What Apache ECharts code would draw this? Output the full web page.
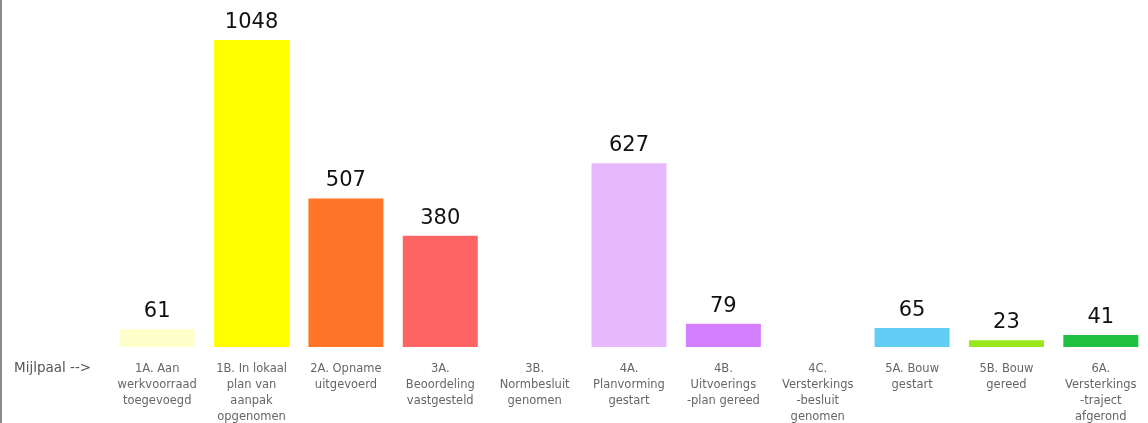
<!DOCTYPE html>
<html>
<head>
<meta charset="utf-8">
<script src="https://cdn.jsdelivr.net/npm/echarts@6/dist/echarts.min.js"></script>
<style>
  html, body { margin: 0; padding: 0; background: #fff; }
  #container { width: 1148px; height: 423px; }
</style>
</head>
<body>
<div id="container"></div>
<script>
// mijlpalen
var categories = [
  '1A. Aan\nwerkvoorraad\ntoegevoegd',
  '1B. In lokaal\nplan van\naanpak\nopgenomen',
  '2A. Opname\nuitgevoerd',
  '3A.\nBeoordeling\nvastgesteld',
  '3B.\nNormbesluit\ngenomen',
  '4A.\nPlanvorming\ngestart',
  '4B.\nUitvoerings\n-plan gereed',
  '4C.\nVersterkings\n-besluit\ngenomen',
  '5A. Bouw\ngestart',
  '5B. Bouw\ngereed',
  '6A.\nVersterkings\n-traject\nafgerond'
];
var values = [61, 1048, 507, 380, 0, 627, 79, 0, 65, 23, 41];
var barColors = ['#ffffcc', '#ffff00', '#ff7426', '#ff6464', '#ffffff', '#e6b9ff',
                 '#d47fff', '#ffffff', '#62ccf5', '#9ae81c', '#1fbf42'];

var myChart = echarts.init(document.getElementById('container'));
var option = {
  animation: false,
  backgroundColor: '#fff',
  grid: { left: 110, right: 0, top: 40, bottom: 76, outerBoundsMode: 'none', containLabel: false },
  graphic: [
    { type: 'rect', left: 0, top: 0, shape: { width: 2, height: 423 }, style: { fill: '#8a8a8a' } },
    { type: 'text', left: 14, top: 361,
      style: { text: 'Mijlpaal -->', fill: '#555', font: '13.5px Verdana, "DejaVu Sans", sans-serif' } }
  ],
  xAxis: {
    type: 'category',
    data: categories,
    axisLine: { show: false },
    axisTick: { show: false },
    axisLabel: {
      interval: 0,
      margin: 14,
      color: '#666',
      fontSize: 11.5,
      lineHeight: 16,
      fontFamily: 'Verdana, "DejaVu Sans", sans-serif'
    }
  },
  yAxis: {
    type: 'value',
    min: 0,
    max: 1048,
    show: false,
    splitLine: { show: false }
  },
  series: [{
    type: 'bar',
    barWidth: 75,
    data: values.map(function (v, i) {
      return {
        value: v,
        itemStyle: { color: barColors[i] },
        label: { show: v > 0 }
      };
    }),
    label: {
      position: 'top',
      distance: 7,
      color: '#111',
      fontSize: 21,
      fontFamily: 'Verdana, "DejaVu Sans", sans-serif'
    }
  }]
};
myChart.setOption(option);
</script>
</body>
</html>
